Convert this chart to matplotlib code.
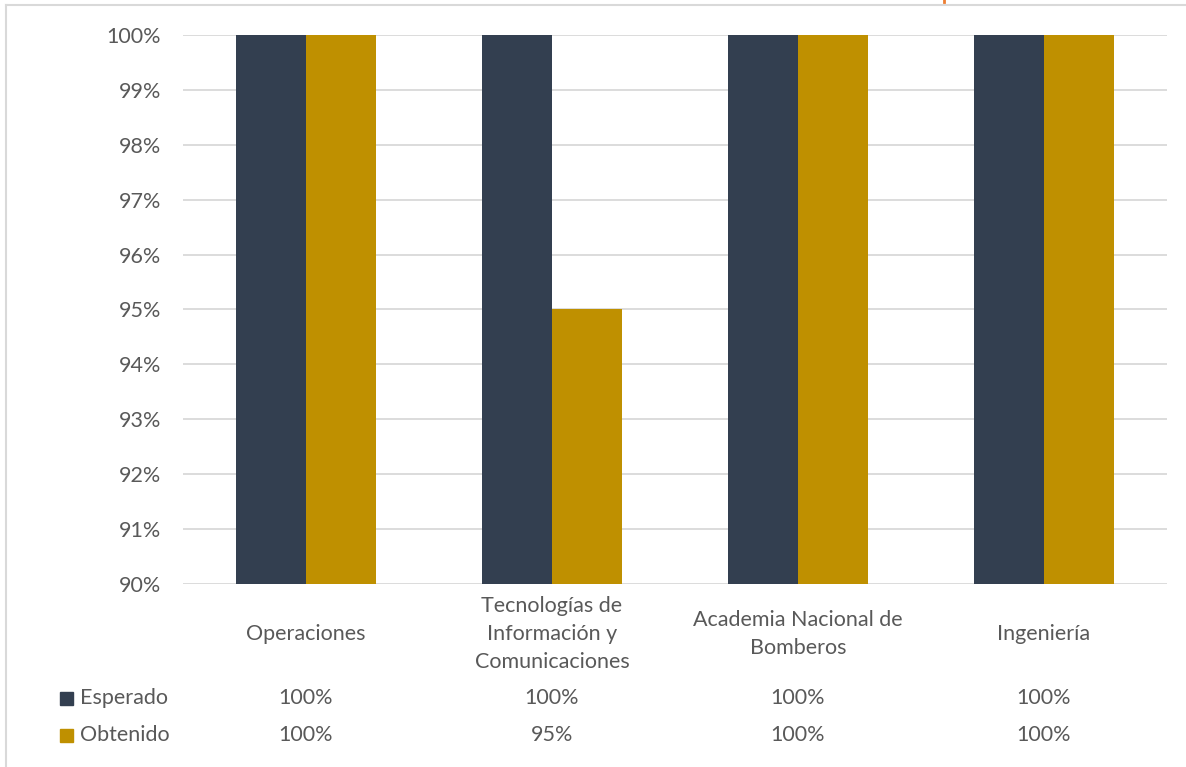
import matplotlib
matplotlib.use("Agg")
import matplotlib.pyplot as plt
from matplotlib.patches import Rectangle
from matplotlib.lines import Line2D
import matplotlib.transforms as mtransforms
import numpy as np

categories = ["Operaciones", "Tecnologías de\nInformación y\nComunicaciones",
              "Academia Nacional de\nBomberos", "Ingeniería"]
esperado = [100, 100, 100, 100]
obtenido = [100, 95, 100, 100]
series_names = ["Esperado", "Obtenido"]
yticks = [90, 91, 92, 93, 94, 95, 96, 97, 98, 99, 100]

c_esp = "#333F50"
c_obt = "#BF9000"
txt = "#595959"
grid = "#D9D9D9"

plt.rcParams['font.family'] = ['Lato', 'DejaVu Sans']
FS = 15.5

W, H = 1186, 767
fig = plt.figure(figsize=(W/100, H/100), dpi=100)
ax = fig.add_axes([183/W, 1 - 584/H, (1167-183)/W, (584-35)/H])

x = np.arange(len(categories))
bw = 70/246
ax.bar(x - bw/2, esperado, width=bw, color=c_esp, zorder=3)
ax.bar(x + bw/2, obtenido, width=bw, color=c_obt, zorder=3)

ax.set_xlim(-0.5, len(categories) - 0.5)
ax.set_ylim(90, 100)
ax.set_yticks(yticks)
ax.set_yticklabels([f"{t}%" for t in yticks], fontsize=FS, color=txt)
ax.tick_params(axis='y', length=0, pad=16)
ax.set_xticks([])
ax.yaxis.grid(True, color=grid, linewidth=1.3, zorder=0)
for s in ax.spines.values():
    s.set_visible(False)

trans = mtransforms.blended_transform_factory(ax.transData, fig.transFigure)
def fy(py):
    return 1 - py / H

for i, cat in enumerate(categories):
    ax.text(i, fy(634), cat, transform=trans, ha='center', va='center',
            fontsize=FS, color=txt, linespacing=1.5)
    ax.text(i, fy(698), f"{esperado[i]}%", transform=trans, ha='center', va='center',
            fontsize=FS, color=txt)
    ax.text(i, fy(735), f"{obtenido[i]}%", transform=trans, ha='center', va='center',
            fontsize=FS, color=txt)

for py, name, col in [(698, series_names[0], c_esp), (735, series_names[1], c_obt)]:
    fig.patches.append(Rectangle((60/W, fy(py + 7)), 13/W, 13/H, transform=fig.transFigure,
                                 color=col, figure=fig))
    fig.text(80/W, fy(py), name, ha='left', va='center', fontsize=FS, color=txt)

# chart border
fig.lines.append(Line2D([6/W, 6/W], [0, fy(5)], transform=fig.transFigure, color=grid, linewidth=1.5))
fig.lines.append(Line2D([6/W, 1], [fy(5), fy(5)], transform=fig.transFigure, color=grid, linewidth=1.5))
fig.lines.append(Line2D([943.5/W, 943.5/W], [fy(0), fy(2)], transform=fig.transFigure, color="#ED7D31", linewidth=2))

fig.savefig("out.png", dpi=100, facecolor="white")
